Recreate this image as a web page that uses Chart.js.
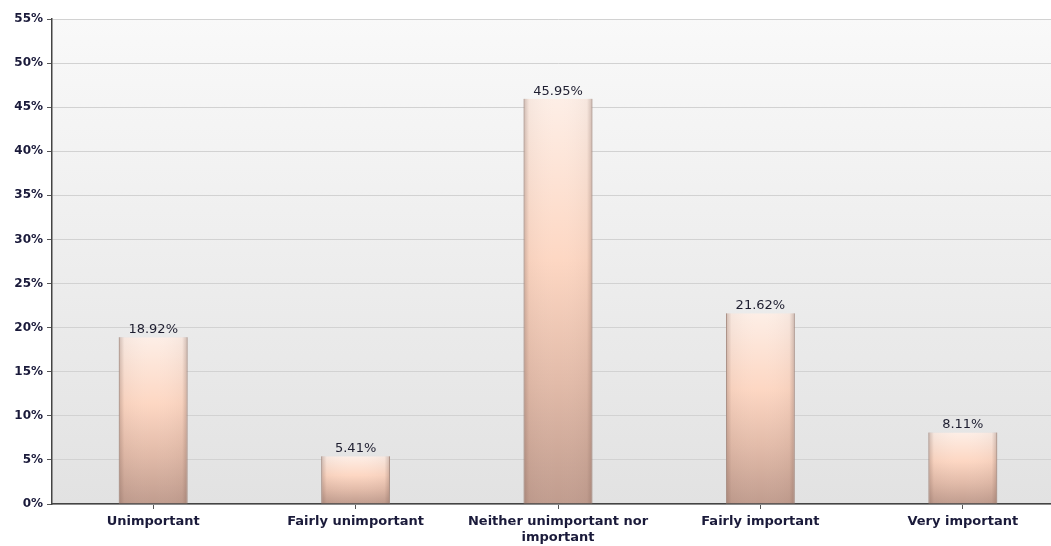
<!DOCTYPE html>
<html>
<head>
<meta charset="utf-8">
<script src="https://cdn.jsdelivr.net/npm/chart.js@4.4.0/dist/chart.umd.min.js"></script>
<style>
  html, body { margin: 0; padding: 0; background: #fff; overflow: hidden; }
  #wrap { width: 1051px; height: 546px; overflow: hidden; }
</style>
</head>
<body>
<div id="wrap"><canvas id="importanceChart" width="1064" height="546"></canvas></div>
<script>
const categories = [
  "Unimportant",
  "Fairly unimportant",
  ["Neither unimportant nor", "important"],
  "Fairly important",
  "Very important",
];
const percentages = [18.92, 5.41, 45.95, 21.62, 8.11];
const yMax = 55;
const yStep = 5;

const fontFamily = "'DejaVu Sans', Verdana, sans-serif";
const ctx = document.getElementById("importanceChart").getContext("2d");

// plot area background, light at top and grey at bottom
const plotBackground = {
  id: "plotBackground",
  beforeDraw(chart) {
    const { ctx, chartArea } = chart;
    const g = ctx.createLinearGradient(0, chartArea.top, 0, chartArea.bottom);
    g.addColorStop(0, "#f9f9f9");
    g.addColorStop(1, "#e2e2e2");
    ctx.save();
    ctx.fillStyle = g;
    ctx.fillRect(chartArea.left, chartArea.top, chartArea.width, chartArea.height);
    ctx.restore();
  },
};

// darker edges on bars + value labels on top
const barDecor = {
  id: "barDecor",
  afterDatasetsDraw(chart) {
    const { ctx } = chart;
    const meta = chart.getDatasetMeta(0);
    ctx.save();
    meta.data.forEach((bar, i) => {
      const left = bar.x - bar.width / 2;
      const h = bar.base - bar.y;
      const g = ctx.createLinearGradient(left, 0, left + bar.width, 0);
      g.addColorStop(0, "rgba(120,90,80,0.35)");
      g.addColorStop(0.08, "rgba(120,90,80,0.05)");
      g.addColorStop(0.5, "rgba(255,255,255,0)");
      g.addColorStop(0.92, "rgba(120,90,80,0.05)");
      g.addColorStop(1, "rgba(120,90,80,0.35)");
      ctx.fillStyle = g;
      ctx.fillRect(left, bar.y, bar.width, h);

      ctx.fillStyle = "#1e1e30";
      ctx.font = "13px " + fontFamily;
      ctx.textAlign = "center";
      ctx.textBaseline = "bottom";
      ctx.fillText(percentages[i].toFixed(2) + "%", bar.x, bar.y - 1);
    });
    ctx.restore();
  },
};

function barGradient(context) {
  const chart = context.chart;
  const { chartArea } = chart;
  if (!chartArea) return "#fdd6c2";
  const top = chart.scales.y.getPixelForValue(context.raw);
  const g = chart.ctx.createLinearGradient(0, top, 0, chartArea.bottom);
  g.addColorStop(0, "#fdeee6");
  g.addColorStop(0.4, "#fdd7c3");
  g.addColorStop(0.7, "#e2bba9");
  g.addColorStop(1, "#c09c8e");
  return g;
}

const importanceChart = new Chart(ctx, {
  type: "bar",
  data: {
    labels: categories,
    datasets: [
      {
        data: percentages,
        backgroundColor: barGradient,
        borderColor: "#c5ada2",
        borderWidth: { left: 1, right: 1, top: 0, bottom: 0 },
        borderSkipped: false,
        barPercentage: 0.34,
        categoryPercentage: 1,
      },
    ],
  },
  options: {
    responsive: false,
    animation: false,
    layout: {
      padding: { top: 19, left: 0, right: 0, bottom: 0 },
    },
    plugins: {
      legend: { display: false },
      tooltip: { enabled: false },
    },
    scales: {
      x: {
        grid: {
          offset: false,
          drawOnChartArea: false,
          tickLength: 5,
          tickColor: "#555",
          tickWidth: 1,
        },
        border: { color: "#444", width: 1.5 },
        ticks: {
          color: "#1a1a3a",
          font: { family: fontFamily, size: 13, weight: "bold" },
          padding: 5,
          maxRotation: 0,
        },
        afterFit(scale) {
          scale.height = 42;
        },
      },
      y: {
        min: 0,
        max: yMax,
        grid: {
          color: "#d2d2d2",
          tickLength: 5,
          tickColor: "#555",
        },
        border: { color: "#444", width: 1.5 },
        ticks: {
          stepSize: yStep,
          color: "#1a1a3a",
          font: { family: fontFamily, size: 12, weight: "bold" },
          padding: 4,
          callback: (value) => value + "%",
        },
        afterFit(scale) {
          scale.width = 52;
        },
      },
    },
  },
  plugins: [plotBackground, barDecor],
});
</script>
</body>
</html>
